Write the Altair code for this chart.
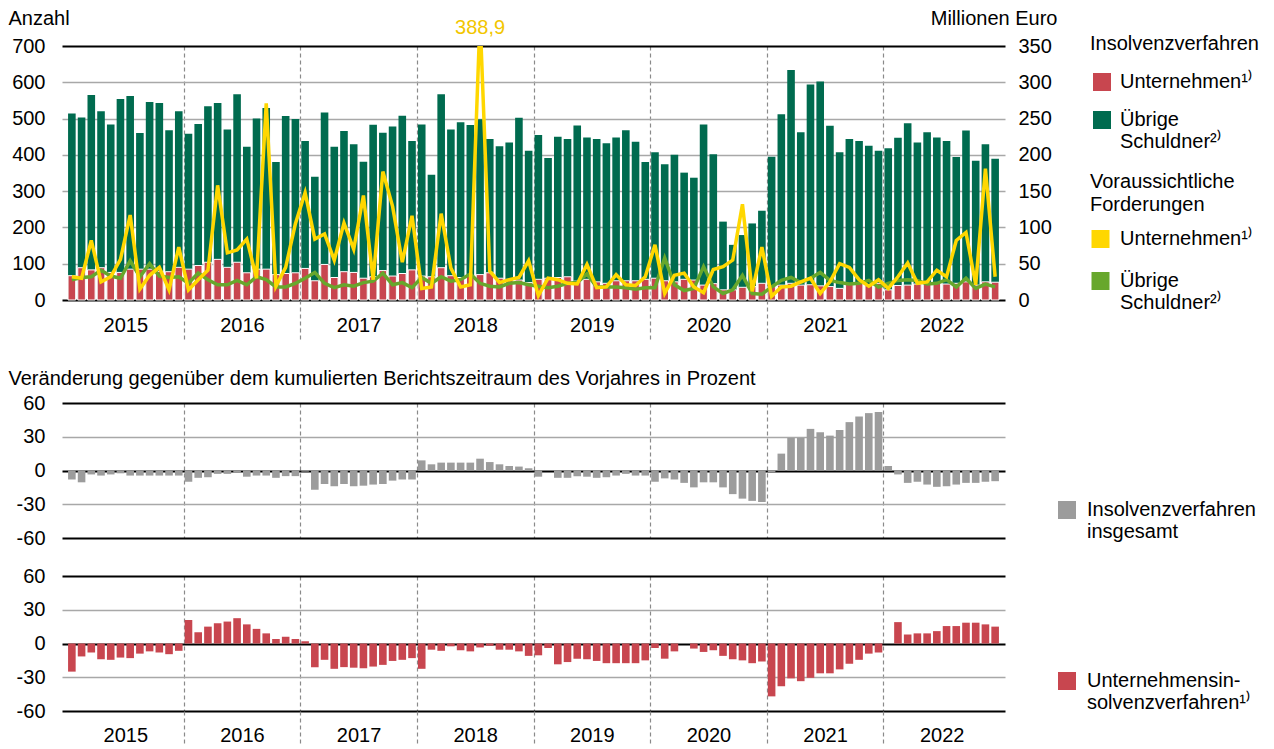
import altair as alt
import pandas as pd

years = ["2015", "2016", "2017", "2018", "2019", "2020", "2021", "2022"]

# Insolvenzverfahren insgesamt (Anzahl, linke Achse) – Gesamthöhe der Säulen
verfahren_gesamt = [
    514, 503, 565, 520, 484, 554, 562, 460, 546, 543, 468, 520,
    458, 485, 534, 543, 470, 567, 422, 500, 529, 380, 507, 499,
    438, 340, 517, 422, 466, 429, 381, 483, 461, 478, 508, 438,
    484, 345, 567, 470, 490, 482, 498, 444, 424, 434, 502, 411,
    455, 391, 450, 444, 481, 448, 444, 432, 448, 468, 436, 380,
    407, 374, 400, 351, 337, 484, 402, 216, 152, 179, 211, 246,
    395, 512, 634, 462, 594, 602, 480, 407, 444, 438, 425, 411,
    418, 447, 487, 434, 462, 448, 438, 394, 467, 384, 429, 389,
]
# davon Unternehmen (Anzahl)
verfahren_unternehmen = [
    67, 89, 83, 89, 76, 76, 85, 85, 85, 79, 78, 90,
    85, 95, 104, 112, 90, 104, 75, 85, 85, 70, 73, 75,
    87, 53, 98, 62, 78, 76, 60, 64, 81, 66, 73, 83,
    66, 64, 89, 67, 62, 65, 70, 75, 60, 57, 55, 48,
    57, 60, 62, 64, 52, 57, 50, 46, 53, 53, 53, 57,
    60, 53, 50, 57, 55, 41, 45, 28, 28, 35, 37, 46,
    37, 41, 46, 41, 42, 39, 37, 32, 44, 46, 42, 46,
    28, 40, 41, 44, 46, 48, 44, 46, 50, 41, 50, 49,
]
# Voraussichtliche Forderungen, Millionen Euro (rechte Achse)
forderungen_unternehmen = [
    32, 30, 82, 25, 32, 56, 117, 15, 34, 45, 14, 73,
    14, 28, 41, 158, 65, 69, 84, 30, 271, 19, 45, 105,
    148, 84, 91, 55, 106, 70, 144, 28, 177, 129, 52, 116,
    16, 18, 119, 44, 18, 21, 388.9, 40, 24, 28, 31, 54,
    6, 30, 28, 23, 22, 49, 17, 18, 35, 21, 20, 32,
    76, 9, 34, 37, 18, 10, 42, 46, 55, 132, 12, 73,
    5, 18, 19, 25, 30, 9, 25, 50, 45, 28, 19, 28,
    16, 32, 51, 23, 25, 41, 32, 82, 93, 21, 181, 32,
]
forderungen_uebrige = [
    28, 31, 32, 41, 33, 30, 54, 32, 50, 33, 31, 32,
    23, 37, 28, 21, 21, 27, 21, 32, 28, 18, 18, 23,
    30, 38, 23, 17, 21, 19, 24, 26, 37, 21, 24, 17,
    31, 23, 32, 26, 28, 36, 23, 19, 18, 23, 24, 21,
    19, 17, 19, 23, 24, 36, 18, 18, 18, 17, 15, 17,
    17, 58, 21, 13, 16, 46, 18, 9, 14, 34, 9, 8,
    18, 27, 31, 24, 30, 38, 27, 24, 22, 23, 27, 18,
    23, 27, 28, 27, 22, 23, 28, 18, 30, 16, 22, 18,
]
# Veränderung gegenüber dem kumulierten Berichtszeitraum des Vorjahres, %
veraenderung_insgesamt = [
    -8, -10.5, -3.5, -4.5, -3.5, -2.5, -4.5, -4.5, -4.5, -4.5, -4.5, -4.5,
    -10, -6.5, -6, -3, -3, -2, -5.5, -4.5, -4.5, -6.5, -5, -5,
    -1, -17, -12, -14, -12, -14, -13.5, -12.5, -12, -9, -8, -8,
    9, 5.5, 7, 7, 7, 7, 10.5, 7.5, 5.5, 4, 3.5, 2,
    -5.5, 0, -6.5, -6.5, -5, -5.5, -6.5, -6, -4.5, -3, -4.5, -4.5,
    -10, -7, -8, -11, -15, -10.5, -10.5, -15, -21, -25, -27, -28,
    -1.5, 15, 29, 29, 37, 34, 31, 36, 43, 48, 51, 52,
    4, -3.5, -11, -10, -12.5, -14.5, -14, -12.5, -11, -11, -10, -9.5,
]
veraenderung_unternehmen = [
    -25, -11.5, -8, -14, -14.5, -12.5, -13, -9, -7, -8, -9.5, -6.5,
    21, 10, 15, 18, 19.5, 22.5, 17, 13, 9, 4, 6, 4,
    2, -21, -14.5, -22.5, -21, -21.5, -22, -20.5, -19, -15.5, -14.5, -13,
    -22.5, -5.5, -6.5, -2.5, -6, -7, -3.5, -2, -5.5, -5.5, -7, -11,
    -10.5, -4, -18.5, -16.5, -13.5, -14, -15.5, -17.5, -17.5, -17.5, -17.5, -15,
    -4, -13.5, -7, 0, -4.5, -7.5, -6, -11, -14, -15, -17.5, -16,
    -47, -38, -31, -33.5, -30.5, -26.5, -26.5, -23, -18, -14.5, -9, -8,
    0, 19, 8, 9, 9, 11, 15.5, 15.5, 18.5, 18.5, 17, 15,
]

RED = "#C8464F"
DGREEN = "#006B4F"
YELLOW = "#FFD700"
LGREEN = "#67A72C"
GREY = "#9C9C9C"
GRID = "#A8A8A8"
DASH = "#8A8A8A"
LABEL_GOLD = "#F2C600"
FONT = "Liberation Sans"
FS = 20

n = len(verfahren_gesamt)
df = pd.DataFrame({
    "m": [i + 0.5 for i in range(n)],
    "gesamt": verfahren_gesamt,
    "unt": verfahren_unternehmen,
    "fu": forderungen_unternehmen,
    "fo": forderungen_uebrige,
    "pg": veraenderung_insgesamt,
    "pu": veraenderung_unternehmen,
})

W = 943
BAR_W = 7.6
x_scale = alt.Scale(domain=[0, n], nice=False, zero=False)
year_expr = "[" + ",".join("'" + y + "'" for y in years) + "][floor(datum.value / 12)]"
boundary = "datum.value % 12 == 0"
leg_expr = "split(datum.label, '|')"


def year_axis(tick_len, label_pad):
    return alt.Axis(
        values=list(range(6, n, 6)),
        labelExpr="datum.value % 12 == 6 ? " + year_expr + " : ''",
        title=None, domain=False,
        ticks=True, tickSize=tick_len, tickColor=DASH, tickWidth=1.2, tickDash=[4, 3],
        tickOpacity={"condition": {"test": boundary, "value": 1}, "value": 0},
        grid=True, gridColor=DASH, gridWidth=1.2, gridDash=[4, 3],
        gridOpacity={"condition": {"test": boundary, "value": 1}, "value": 0},
        labelPadding=label_pad, labelFontSize=FS, labelOverlap=False,
        labelFlush=False, labelBound=False,
    )


def pct_axis(title=None):
    if title:
        kw = dict(title=title, titleAngle=0, titleAlign="left", titleBaseline="middle",
                  titleX=-54, titleY=-25, titleLimit=1200)
    else:
        kw = dict(title=None)
    return alt.Axis(
        values=[-60, -30, 0, 30, 60], labelExpr="datum.value + ''",
        labelPadding=17, ticks=False, domain=False, grid=True,
        gridColor={"condition": {"test": "abs(datum.value) == 30", "value": GRID}, "value": "#000000"},
        gridWidth={"condition": {"test": "abs(datum.value) == 30", "value": 1.5}, "value": 2},
        **kw,
    )


# ---------- oberes Diagramm ----------
left_axis = alt.Axis(
    values=list(range(0, 701, 100)), title="Anzahl", titleAngle=0, titleAlign="left",
    titleBaseline="middle", titleX=-54, titleY=-28, labelPadding=17,
    ticks=False, domain=False, grid=True,
    gridColor={"condition": {"test": "datum.value == 0 || datum.value == 700", "value": "#000000"}, "value": GRID},
    gridWidth={"condition": {"test": "datum.value == 0 || datum.value == 700", "value": 2}, "value": 1.5},
)
left_scale = alt.Scale(domain=[0, 700], nice=False)
right_axis = alt.Axis(
    orient="right", values=list(range(0, 351, 50)), title="Millionen Euro", titleAngle=0,
    titleAlign="right", titleBaseline="middle", titleX=52, titleY=-28, labelPadding=13,
    ticks=False, domain=False, grid=False,
)
right_scale = alt.Scale(domain=[0, 350], nice=False)

bar_series = ["Unternehmen¹⁾", "Übrige|Schuldner²⁾"]
# trailing space keeps the line legend separate from the bar legend
line_series = ["Unternehmen¹⁾ ", "Übrige|Schuldner²⁾ "]

bar_fill = alt.Scale(domain=bar_series, range=[RED, DGREEN])
bar_legend = alt.Legend(
    orient="none", legendX=1028, legendY=-12, title="Insolvenzverfahren",
    titlePadding=18, labelExpr=leg_expr, labelOffset=8, symbolOffset=2,
    symbolType="square", symbolSize=324, symbolStrokeWidth=0, rowPadding=18,
)
line_stroke = alt.Scale(domain=line_series, range=[YELLOW, LGREEN])
line_legend = alt.Legend(
    orient="none", legendX=1028, legendY=126, title=["Voraussichtliche", "Forderungen"],
    titleLineHeight=23, titlePadding=14, labelExpr=leg_expr, labelOffset=9.5, symbolOffset=0.5,
    symbolType="square", symbolSize=81, symbolStrokeWidth=9, rowPadding=-4,
)

base = alt.Chart(df)
x_top = alt.X("m:Q", scale=x_scale, axis=year_axis(40, -25))

green_bars = base.transform_calculate(serie="'" + bar_series[1] + "'").mark_bar(width=BAR_W).encode(
    x=x_top,
    y=alt.Y("gesamt:Q", scale=left_scale, axis=left_axis),
    fill=alt.Fill("serie:N", scale=bar_fill, legend=bar_legend),
)
red_bars = base.transform_calculate(serie="'" + bar_series[0] + "'").mark_bar(
    width=BAR_W, stroke="white", strokeWidth=1
).encode(
    x=x_top,
    y=alt.Y("unt:Q", scale=left_scale, axis=left_axis),
    fill=alt.Fill("serie:N", scale=bar_fill, legend=bar_legend),
)
green_line = base.transform_calculate(linie="'" + line_series[1] + "'").mark_line(
    strokeWidth=3.5, clip=True
).encode(
    x=x_top,
    y=alt.Y("fo:Q", scale=right_scale, axis=right_axis),
    stroke=alt.Stroke("linie:N", scale=line_stroke, legend=line_legend),
)
yellow_line = base.transform_calculate(linie="'" + line_series[0] + "'").mark_line(
    strokeWidth=3.5, clip=True
).encode(
    x=x_top,
    y=alt.Y("fu:Q", scale=right_scale, axis=right_axis),
    stroke=alt.Stroke("linie:N", scale=line_stroke, legend=line_legend),
)
peak_label = base.transform_filter("datum.fu > 350").transform_calculate(
    fu_top="min(datum.fu, 350)", txt="replace(format(datum.fu, '.1f'), '.', ',')"
).mark_text(dy=-18, fontSize=FS, color=LABEL_GOLD, font=FONT).encode(
    x=x_top,
    y=alt.Y("fu_top:Q", scale=right_scale, axis=right_axis),
    text="txt:N",
)

top = alt.layer(
    alt.layer(green_bars, red_bars),
    alt.layer(green_line, yellow_line, peak_label),
).resolve_scale(y="independent").properties(width=W, height=254)

# ---------- mittleres Diagramm ----------
x_mid = alt.X("m:Q", scale=x_scale, axis=alt.Axis(
    values=list(range(12, n, 12)), labels=False, ticks=False, domain=False, title=None,
    grid=True, gridColor=DASH, gridDash=[4, 3], gridWidth=1.2,
))
pct_scale = alt.Scale(domain=[-60, 60], nice=False)

mid = base.transform_calculate(serie="'Insolvenzverfahren|insgesamt'").mark_bar(width=BAR_W).encode(
    x=x_mid,
    y=alt.Y("pg:Q", scale=pct_scale,
            axis=pct_axis("Veränderung gegenüber dem kumulierten Berichtszeitraum des Vorjahres in Prozent")),
    fill=alt.Fill("serie:N", scale=alt.Scale(range=[GREY]), legend=alt.Legend(
        orient="none", legendX=995, legendY=97, title=None, labelExpr=leg_expr,
        labelOffset=10, symbolType="square", symbolSize=324, symbolStrokeWidth=0,
    )),
).properties(width=W, height=135)

# ---------- unteres Diagramm ----------
bot = base.transform_calculate(serie="'Unternehmensin-|solvenzverfahren¹⁾'").mark_bar(width=BAR_W).encode(
    x=alt.X("m:Q", scale=x_scale, axis=year_axis(34, -20)),
    y=alt.Y("pu:Q", scale=pct_scale, axis=pct_axis()),
    fill=alt.Fill("serie:N", scale=alt.Scale(range=[RED]), legend=alt.Legend(
        orient="none", legendX=995, legendY=95, title=None, labelExpr=leg_expr,
        labelOffset=10, symbolType="square", symbolSize=324, symbolStrokeWidth=0,
    )),
).properties(width=W, height=135)

lower = alt.vconcat(mid, bot, spacing=38, bounds="flush").resolve_scale(
    fill="independent", y="independent"
)

chart = alt.vconcat(top, lower, spacing=103, bounds="flush").resolve_scale(
    fill="independent", stroke="independent", y="independent"
).properties(
    padding=0
).configure(
    font=FONT
).configure_view(
    stroke=None
).configure_axis(
    labelFont=FONT, titleFont=FONT, labelColor="#000000", titleColor="#000000",
    labelFontSize=FS, titleFontSize=FS, titleFontWeight="normal",
).configure_legend(
    labelFont=FONT, titleFont=FONT, labelColor="#000000", titleColor="#000000",
    labelFontSize=FS, titleFontSize=FS, titleFontWeight="normal",
    labelLimit=400, titleLimit=400, padding=0,
)

chart.save("out.html", embed_options={"renderer": "svg", "actions": False})
